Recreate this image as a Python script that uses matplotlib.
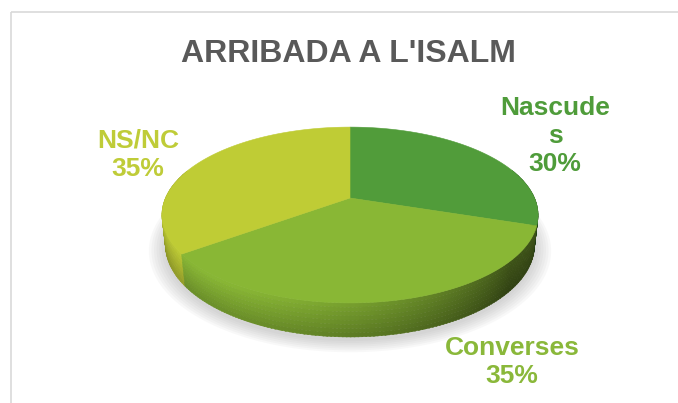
import numpy as np
import matplotlib
matplotlib.use('Agg')
import matplotlib.pyplot as plt
from matplotlib.patches import Rectangle, Polygon

# data
categories = ['Nascudes', 'Converses', 'NS/NC']
values = [30, 35, 35]
label_texts = ['Nascude\ns\n30%', 'Converses\n35%', 'NS/NC\n35%']
title = "ARRIBADA A L'ISALM"

# styles
top_colors = ['#519c3a', '#89b735', '#bfcc35']
text_colors = ['#4f9c3a', '#8ab83a', '#bfcc38']
label_pos = [(555, 136), (512, 362), (138, 155)]

plt.rcParams['font.family'] = ['Liberation Sans', 'DejaVu Sans']

W, H = 678, 403
fig = plt.figure(figsize=(W / 100, H / 100), dpi=100)
ax = fig.add_axes([0, 0, 1, 1])
ax.set_xlim(0, W)
ax.set_ylim(H, 0)
ax.axis('off')

# chart frame
ax.add_patch(Rectangle((11, 12), W + 20, H + 20, fill=False, edgecolor='#d9d9d9', linewidth=1.2))

# simple perspective camera for the 3d pie
phi = np.radians(27.3)
q, c = np.sin(phi), np.cos(phi)
D, f = 4.59, 847.0
cx, cy = 350.0, 198.0
h = 0.183


def proj(X, Y, Z):
    z = D + Y * c - Z * q
    u = f * X / z
    v = f * (Y * q + Z * c) / z
    return cx + u, cy - v


def to_rgb(col):
    return np.array(matplotlib.colors.to_rgb(col))


fracs = np.array(values, dtype=float) / sum(values)
edges = np.concatenate([[0], np.cumsum(fracs)]) * 360.0  # clockwise from 12 o'clock


def slice_of(theta_deg):
    cw = (90.0 - theta_deg) % 360.0
    return int(np.searchsorted(edges, cw, side='right') - 1) % len(values)


# soft shadow under the pie
tt = np.radians(np.linspace(0, 360, 200))
for k, s in enumerate(np.linspace(1.08, 1.0, 7)):
    xs, ys = proj(np.cos(tt) * s, np.sin(tt) * s - 0.03, -h)
    ax.add_patch(Polygon(np.column_stack([xs, ys]), closed=True, facecolor='#808080',
                         edgecolor='none', alpha=0.05, zorder=1))

# side wall, drawn far to near
light = np.array([-0.62, -0.72])
light = light / np.linalg.norm(light)
steps = np.linspace(160, 380, 221)
segs = []
for t1, t2 in zip(steps[:-1], steps[1:]):
    tm = np.radians((t1 + t2) / 2)
    segs.append((np.sin(tm), t1, t2))
segs.sort(key=lambda s: -s[0])

nrows = 8
row_shade = np.linspace(1.08, 0.86, nrows)
zs = np.linspace(0, -h, nrows + 1)
for _, t1, t2 in segs:
    tm = (t1 + t2) / 2
    idx = slice_of(tm)
    n = np.array([np.cos(np.radians(tm)), np.sin(np.radians(tm))])
    dot = max(0.0, float(n @ light))
    base = to_rgb(top_colors[idx]) * (0.42 + 0.5 * dot)
    a1, a2 = np.radians(t1), np.radians(t2 + 0.3)
    for r in range(nrows):
        za, zb = zs[r], zs[r + 1]
        p = [proj(np.cos(a1), np.sin(a1), za), proj(np.cos(a2), np.sin(a2), za),
             proj(np.cos(a2), np.sin(a2), zb), proj(np.cos(a1), np.sin(a1), zb)]
        col = np.clip(base * row_shade[r], 0, 1)
        ax.add_patch(Polygon(p, closed=True, facecolor=col, edgecolor=col,
                             linewidth=0.3, zorder=2))

# top face wedges
for i in range(len(values)):
    a_start = 90.0 - edges[i]
    a_end = 90.0 - edges[i + 1]
    th = np.radians(np.linspace(a_start, a_end, 120))
    xs, ys = proj(np.cos(th), np.sin(th), 0.0)
    pts = np.vstack([[cx, cy], np.column_stack([xs, ys])])
    ax.add_patch(Polygon(pts, closed=True, facecolor=top_colors[i],
                         edgecolor=top_colors[i], linewidth=0.4, zorder=3))

# labels
for i in range(len(values)):
    ax.text(label_pos[i][0], label_pos[i][1], label_texts[i], ha='center', va='center',
            fontsize=19, fontweight='bold', color=text_colors[i], linespacing=1.22, zorder=4)

ax.text(348, 62, title, ha='center', va='baseline', fontsize=23, fontweight='bold',
        color='#595959')

fig.savefig('out.png', dpi=100)
